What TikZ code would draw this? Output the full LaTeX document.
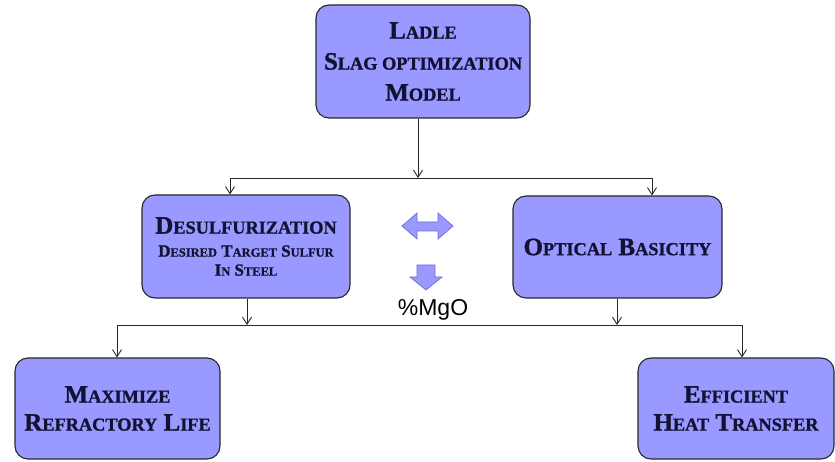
\documentclass[tikz,border=0pt]{standalone}
\usepackage{fontspec}
\setmainfont{Liberation Serif}[BoldFeatures={FakeBold=1.2}]
\newfontfamily\arialf{Liberation Sans}
\usetikzlibrary{arrows.meta}
\definecolor{boxfill}{RGB}{153,153,255}
\definecolor{boxtext}{RGB}{20,18,52}
\definecolor{linec}{RGB}{40,40,40}
\definecolor{arrline}{RGB}{110,110,210}
\newcommand\Lsc[2]{{\fontsize{25}{31}\selectfont #1}{\fontsize{18.3}{31}\selectfont #2}}
\newcommand\Ssc[2]{{\fontsize{17}{31}\selectfont #1}{\fontsize{12.5}{31}\selectfont #2}}
\tikzset{
  box/.style={draw=linec, line width=1.1pt, fill=boxfill, rounded corners=13pt,
    align=center, text=boxtext, font=\bfseries\fontsize{25}{31}\selectfont, inner sep=0pt},
  conn/.style={draw=linec, line width=0.9pt},
  arr/.style={conn, -{Straight Barb[length=7pt,width=9pt]}},
  fatarrow/.style={draw=arrline, line width=0.7pt, fill=boxfill}
}
\begin{document}
\begin{tikzpicture}[x=1pt,y=-1pt]
\useasboundingbox (0,0) rectangle (835,462);
\fill[white] (0,0) rectangle (835,462);
% boxes
\node[box, minimum width=214pt, minimum height=113pt] (top) at (423,61.5)
  {\Lsc{L}{ADLE}\\\Lsc{S}{LAG OPTIMIZATION}\\\Lsc{M}{ODEL}};
\node[box, minimum width=208pt, minimum height=103pt] (des) at (246,246.5)
  {\Lsc{D}{ESULFURIZATION}\\[-8pt]\Ssc{D}{ESIRED}\,\Ssc{T}{ARGET}\,\Ssc{S}{ULFUR}\\[-12pt]\Ssc{I}{N}\,\Ssc{S}{TEEL}};
\node[box, minimum width=209pt, minimum height=102pt] (opt) at (617.5,247)
  {\Lsc{O}{PTICAL} \Lsc{B}{ASICITY}};
\node[box, minimum width=205pt, minimum height=101pt] (max) at (117.5,408.5)
  {\Lsc{M}{AXIMIZE}\\[-3pt]\Lsc{R}{EFRACTORY} \Lsc{L}{IFE}};
\node[box, minimum width=196pt, minimum height=101pt] (eff) at (736,408.5)
  {\Lsc{E}{FFICIENT}\\[-3pt]\Lsc{H}{EAT} \Lsc{T}{RANSFER}};
% junction coordinates
\coordinate (j1) at (418,178);
\coordinate (j1l) at (230,178);
\coordinate (j1r) at (652,178);
\coordinate (j2l) at (117,325);
\coordinate (j2r) at (742,325);
\coordinate (j2a) at (247,325);
\coordinate (j2b) at (617,325);
% upper connectors
\draw[arr] (top.south -| j1) -- (j1);
\draw[conn] (j1l) -- (j1r);
\draw[arr] (j1l) -- (j1l |- des.north);
\draw[arr] (j1r) -- (j1r |- opt.north);
% lower connectors
\draw[arr] (des.south -| j2a) -- (j2a);
\draw[arr] (opt.south -| j2b) -- (j2b);
\draw[conn] (j2l) -- (j2r);
\draw[arr] (j2l) -- (j2l |- max.north);
\draw[arr] (j2r) -- (j2r |- eff.north);
% fat arrows
\draw[fatarrow] (402,226) -- (417,213) -- (417,222) -- (438,222) -- (438,213) -- (453,226)
  -- (438,239) -- (438,231) -- (417,231) -- (417,239) -- cycle;
\draw[fatarrow] (417,265) -- (435,265) -- (435,277) -- (442,277) -- (426,290) -- (410,277)
  -- (417,277) -- cycle;
\node[font=\arialf\fontsize{23}{26}\selectfont, text=black, inner sep=0pt, anchor=base] (mgo) at (433,315) {\%MgO};
\end{tikzpicture}
\end{document}
